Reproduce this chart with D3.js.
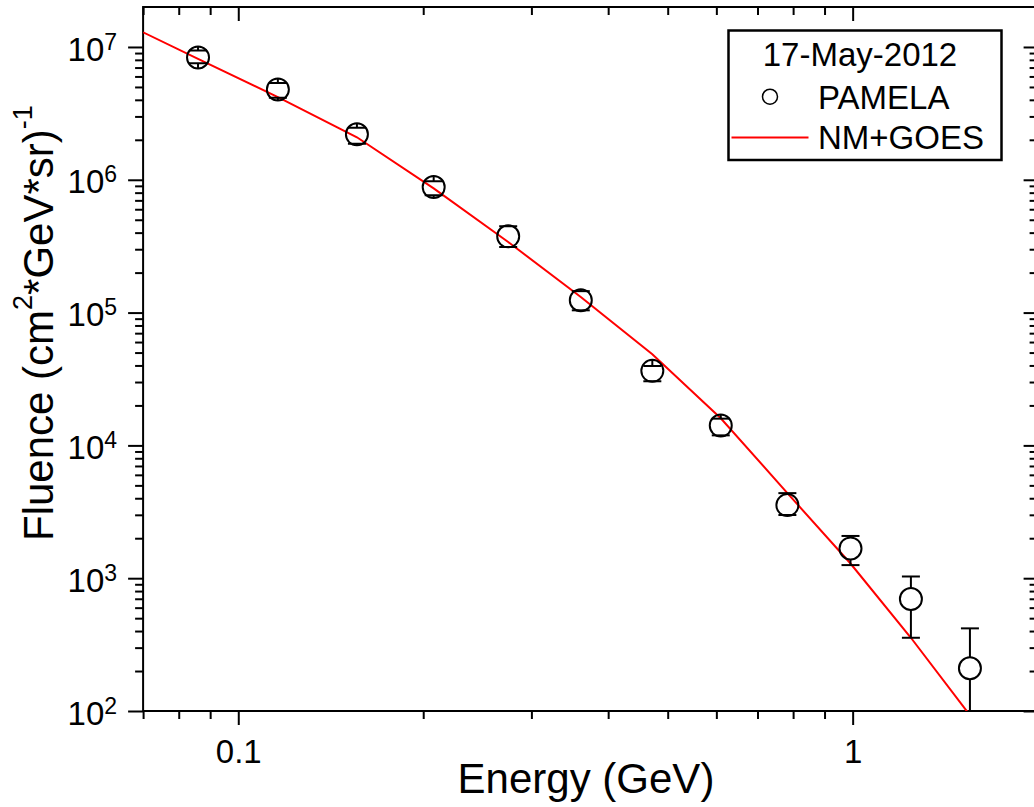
<!DOCTYPE html>
<html lang="en">
<head>
    <meta charset="UTF-8">
    <title>Fluence 17-May-2012</title>
    <script src="https://d3js.org/d3.v7.min.js"></script>
    <style>
        body { margin: 0; background: #fff; }
        svg { font-family: "Liberation Sans", Arial, sans-serif; }
        .tick line { stroke: #000; stroke-width: 2; }
    </style>
</head>
<body>
    <script>
        // PAMELA points
        const energy = [0.086, 0.116, 0.156, 0.208, 0.275, 0.361, 0.472, 0.610, 0.783, 0.992, 1.244, 1.552];
        const fluence = [8.34e6, 4.79e6, 2.20e6, 8.81e5, 3.75e5, 1.24e5, 3.64e4, 1.41e4, 3.55e3, 1.675e3, 697, 210];
        const errHigh = [9.42e6, 5.35e6, 2.47e6, 9.73e5, 4.46e5, 1.45e5, 3.96e4, 1.59e4, 4.37e3, 2.08e3, 1.03e3, 419];
        const errLow = [7.55e6, 4.15e6, 1.87e6, 7.64e5, 3.12e5, 1.04e5, 3.04e4, 1.19e4, 2.99e3, 1.255e3, 356, 50];

        // NM+GOES curve
        const modelEnergy = [0.07, 0.086, 0.116, 0.156, 0.208, 0.275, 0.361, 0.472, 0.610, 0.783, 0.992, 1.244, 1.552];
        const modelFluence = [1.29e7, 8.15e6, 4.19e6, 2.09e6, 8.61e5, 3.40e5, 1.31e5, 4.85e4, 1.60e4, 4.37e3, 1.29e3, 356, 93];

        const xMajor = [0.1, 1];
        const xMinor = [0.07, 0.08, 0.09, 0.2, 0.3, 0.4, 0.5, 0.6, 0.7, 0.8, 0.9];
        const yMajor = [1e2, 1e3, 1e4, 1e5, 1e6, 1e7];
        const yMinor = [];
        for (let k = 2; k <= 6; k++) {
            for (let m = 2; m <= 9; m++) yMinor.push(m * Math.pow(10, k));
        }

        const width = 1034, height = 807;
        const plotL = 143.1, plotR = 1037.6, plotT = 7, plotB = 711;
        const font = "Liberation Sans, Arial, sans-serif";

        const svg = d3.select("body").append("svg")
            .attr("width", width)
            .attr("height", height);

        const x = d3.scaleLog().domain([0.07, 2]).range([plotL, plotR]);
        const y = d3.scaleLog().domain([100, 2e7]).range([plotB, plotT]);

        svg.append("defs").append("clipPath").attr("id", "plot")
            .append("rect")
            .attr("x", plotL).attr("y", plotT)
            .attr("width", plotR - plotL).attr("height", plotB - plotT);

        function drawAxis(axis, tx, ty) {
            const g = svg.append("g")
                .attr("transform", `translate(${tx},${ty})`)
                .call(axis)
                .attr("font-family", font);
            g.select(".domain").remove();
            return g;
        }

        // bottom
        const xb = drawAxis(d3.axisBottom(x).tickValues(xMajor).tickSize(14).tickPadding(15)
            .tickFormat(d => d < 1 ? "0.1" : "1"), 0, plotB);
        xb.selectAll("text").attr("fill", "#000").style("font-size", "33px");
        drawAxis(d3.axisBottom(x).tickValues(xMinor).tickSize(8).tickFormat(""), 0, plotB);
        // top (inward)
        drawAxis(d3.axisTop(x).tickValues(xMajor).tickSize(-14).tickFormat(""), 0, plotT);
        drawAxis(d3.axisTop(x).tickValues(xMinor).tickSize(-8).tickFormat(""), 0, plotT);

        // left
        const yl = drawAxis(d3.axisLeft(y).tickValues(yMajor).tickSize(15).tickPadding(11)
            .tickFormat(""), plotL, 0);
        yl.selectAll(".tick text")
            .attr("fill", "#000")
            .attr("dy", "0.4em")
            .style("font-size", "33px")
            .each(function (d) {
                const t = d3.select(this);
                t.append("tspan").text("10");
                t.append("tspan").attr("dy", -11).style("font-size", "23px")
                    .text(Math.round(Math.log10(d)));
            });
        drawAxis(d3.axisLeft(y).tickValues(yMinor).tickSize(8).tickFormat(""), plotL, 0);
        // right (inward)
        drawAxis(d3.axisRight(y).tickValues(yMajor).tickSize(-14).tickFormat(""), plotR, 0);
        drawAxis(d3.axisRight(y).tickValues(yMinor).tickSize(-8).tickFormat(""), plotR, 0);

        // frame
        svg.append("rect")
            .attr("x", plotL).attr("y", plotT)
            .attr("width", plotR - plotL).attr("height", plotB - plotT)
            .attr("fill", "none").attr("stroke", "#000").attr("stroke-width", 2);

        const plot = svg.append("g").attr("clip-path", "url(#plot)");

        // model curve
        const line = d3.line()
            .x((d, i) => x(modelEnergy[i]))
            .y(d => y(d));
        plot.append("path")
            .datum(modelFluence)
            .attr("d", line)
            .attr("fill", "none")
            .attr("stroke", "#ff0000")
            .attr("stroke-width", 2);

        // PAMELA points with error bars
        const r = 11, cap = 9;
        const pts = energy.map((e, i) => ({ e, f: fluence[i], hi: errHigh[i], lo: errLow[i] }));
        const pg = plot.selectAll("g.pt").data(pts).enter().append("g").attr("class", "pt");
        pg.append("line")
            .attr("x1", d => x(d.e)).attr("x2", d => x(d.e))
            .attr("y1", d => y(d.hi)).attr("y2", d => y(d.f) - r);
        pg.append("line")
            .attr("x1", d => x(d.e)).attr("x2", d => x(d.e))
            .attr("y1", d => y(d.f) + r).attr("y2", d => y(d.lo));
        pg.append("line")
            .attr("x1", d => x(d.e) - cap).attr("x2", d => x(d.e) + cap)
            .attr("y1", d => y(d.hi)).attr("y2", d => y(d.hi));
        pg.append("line")
            .attr("x1", d => x(d.e) - cap).attr("x2", d => x(d.e) + cap)
            .attr("y1", d => y(d.lo)).attr("y2", d => y(d.lo));
        pg.selectAll("line").attr("stroke", "#000").attr("stroke-width", 2);
        pg.append("circle")
            .attr("cx", d => x(d.e)).attr("cy", d => y(d.f)).attr("r", r)
            .attr("fill", "none").attr("stroke", "#000").attr("stroke-width", 2);

        // axis titles
        svg.append("text")
            .attr("x", 586).attr("y", 793)
            .attr("text-anchor", "middle")
            .style("font-size", "42px")
            .text("Energy (GeV)");

        const yt = svg.append("text")
            .attr("transform", "translate(53,541) rotate(-90)")
            .style("font-size", "42px");
        yt.append("tspan").text("Fluence (cm");
        yt.append("tspan").attr("dy", -21).style("font-size", "27px").text("2");
        yt.append("tspan").attr("dy", 21).text("*GeV*sr)");
        yt.append("tspan").attr("dy", -21).style("font-size", "27px").text("-1");

        // legend
        const lg = svg.append("g");
        lg.append("rect")
            .attr("x", 728.5).attr("y", 30.5)
            .attr("width", 273).attr("height", 129.5)
            .attr("fill", "#fff").attr("stroke", "#000").attr("stroke-width", 2.5);
        lg.append("text").attr("x", 860).attr("y", 66)
            .attr("text-anchor", "middle").style("font-size", "33px").text("17-May-2012");
        lg.append("circle").attr("cx", 770).attr("cy", 96.7).attr("r", 7.5)
            .attr("fill", "none").attr("stroke", "#000").attr("stroke-width", 1.5);
        lg.append("text").attr("x", 818).attr("y", 108.5)
            .style("font-size", "33px").text("PAMELA");
        lg.append("line").attr("x1", 731.5).attr("x2", 808.5).attr("y1", 137.5).attr("y2", 137.5)
            .attr("stroke", "#ff0000").attr("stroke-width", 2);
        lg.append("text").attr("x", 818).attr("y", 149)
            .style("font-size", "33px").text("NM+GOES");
    </script>
</body>
</html>
